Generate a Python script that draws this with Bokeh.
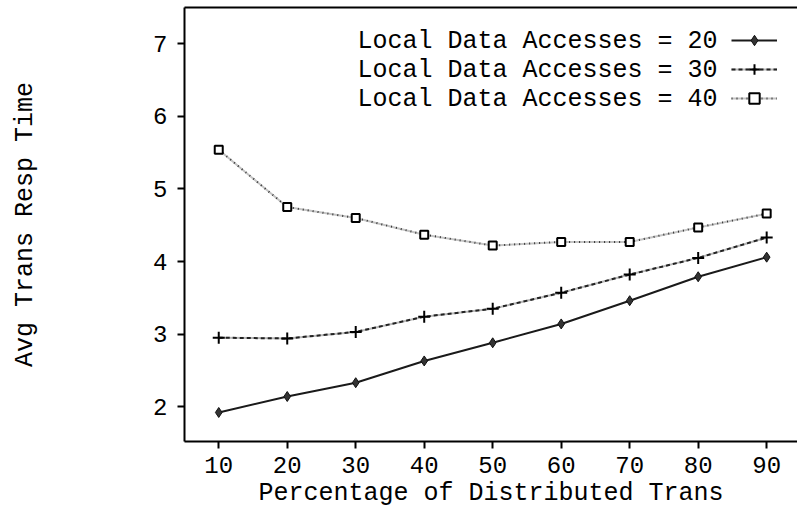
from bokeh.plotting import figure
from bokeh.models import (FixedTicker, LinearAxis, Range1d, Legend, LegendItem, Label)
from bokeh.embed import file_html
from bokeh.resources import INLINE

# Percentage of distributed transactions
pct_distributed = [10, 20, 30, 40, 50, 60, 70, 80, 90]

# Average transaction response time for each local-access setting
resp_local_20 = [1.92, 2.14, 2.33, 2.63, 2.88, 3.14, 3.46, 3.79, 4.06]
resp_local_30 = [2.95, 2.94, 3.03, 3.24, 3.35, 3.57, 3.82, 4.05, 4.33]
resp_local_40 = [5.54, 4.75, 4.60, 4.37, 4.22, 4.27, 4.27, 4.47, 4.66]

series_names = ["Local Data Accesses = 20",
                "Local Data Accesses = 30",
                "Local Data Accesses = 40"]

x_ticks = [10, 20, 30, 40, 50, 60, 70, 80, 90]
y_ticks = [2, 3, 4, 5, 6, 7]

FONT = "Liberation Mono"
FS = "25px"

p = figure(width=797, height=509, output_backend="svg", toolbar_location=None,
           x_range=Range1d(5, 94.5), y_range=Range1d(1.52, 7.5),
           min_border_left=184, min_border_right=0, min_border_top=7,
           min_border_bottom=68, frame_width=613, frame_height=434)
p.background_fill_color = "white"
p.border_fill_color = "white"
p.outline_line_color = None
p.grid.visible = False

for ax in (p.xaxis[0], p.yaxis[0]):
    ax.axis_line_width = 2
    ax.axis_line_color = "black"
    ax.major_tick_line_width = 2
    ax.major_tick_line_color = "black"
    ax.major_tick_in = 0
    ax.major_tick_out = 7
    ax.minor_tick_line_color = None
    ax.major_label_text_font = FONT
    ax.major_label_text_font_size = "24px"
    ax.major_label_text_color = "black"
    ax.axis_label_text_font = FONT
    ax.axis_label_text_font_size = FS
    ax.axis_label_text_font_style = "normal"
    ax.axis_label_text_color = "black"

p.xaxis.ticker = FixedTicker(ticks=x_ticks)
p.yaxis.ticker = FixedTicker(ticks=y_ticks)
p.xaxis.axis_label = "Percentage of Distributed Trans"
p.yaxis.axis_label = "Avg Trans Resp Time"
p.xaxis.major_label_standoff = 8
p.xaxis.axis_label_standoff = 3
p.yaxis.major_label_standoff = 10
p.yaxis.axis_label_standoff = 110

# top border of the frame
top = LinearAxis(axis_line_width=2, axis_line_color="black",
                 major_tick_line_color=None, minor_tick_line_color=None,
                 major_label_text_font_size="0px")
top.ticker = FixedTicker(ticks=[])
p.add_layout(top, "above")

# series 20: solid with diamonds
l20 = p.line(pct_distributed, resp_local_20, line_color="#1a1a1a", line_width=2)
m20 = p.scatter(pct_distributed, resp_local_20, marker="diamond", size=10,
                fill_color="#333333", line_color="#111111", line_width=1)

# series 30: dashed with crosses
l30a = p.line(pct_distributed, resp_local_30, line_color="#b8b8b8", line_width=2)
l30 = p.line(pct_distributed, resp_local_30, line_color="#222222", line_width=2,
             line_dash="4 3")
m30 = p.scatter(pct_distributed, resp_local_30, marker="cross", size=12,
                line_color="#000000", line_width=2)

# series 40: dotted with hollow squares
l40a = p.line(pct_distributed, resp_local_40, line_color="#c4c4c4", line_width=2)
l40 = p.line(pct_distributed, resp_local_40, line_color="#333333", line_width=2,
             line_dash="1 4")
m40 = p.scatter(pct_distributed, resp_local_40, marker="square", size=8,
                fill_color="white", line_color="#000000", line_width=2)

legend = Legend(items=[
    LegendItem(label=" ", renderers=[l20, m20]),
    LegendItem(label=" ", renderers=[l30a, l30, m30]),
    LegendItem(label=" ", renderers=[l40a, l40, m40]),
], location="top_right", glyph_width=46, glyph_height=26, spacing=3,
    label_width=0, label_standoff=0, label_text_font_size="1px",
    padding=0, margin=20, border_line_color=None, background_fill_alpha=0)
p.add_layout(legend)

# legend texts, to the left of each sample
for i, name in enumerate(series_names):
    p.add_layout(Label(x=533, y=400 - i * 29, x_units="screen", y_units="screen",
                       text=name, text_font=FONT, text_font_size=FS,
                       text_align="right", text_baseline="middle",
                       text_color="black"))

open("out.html", "w").write(file_html(p, INLINE))
